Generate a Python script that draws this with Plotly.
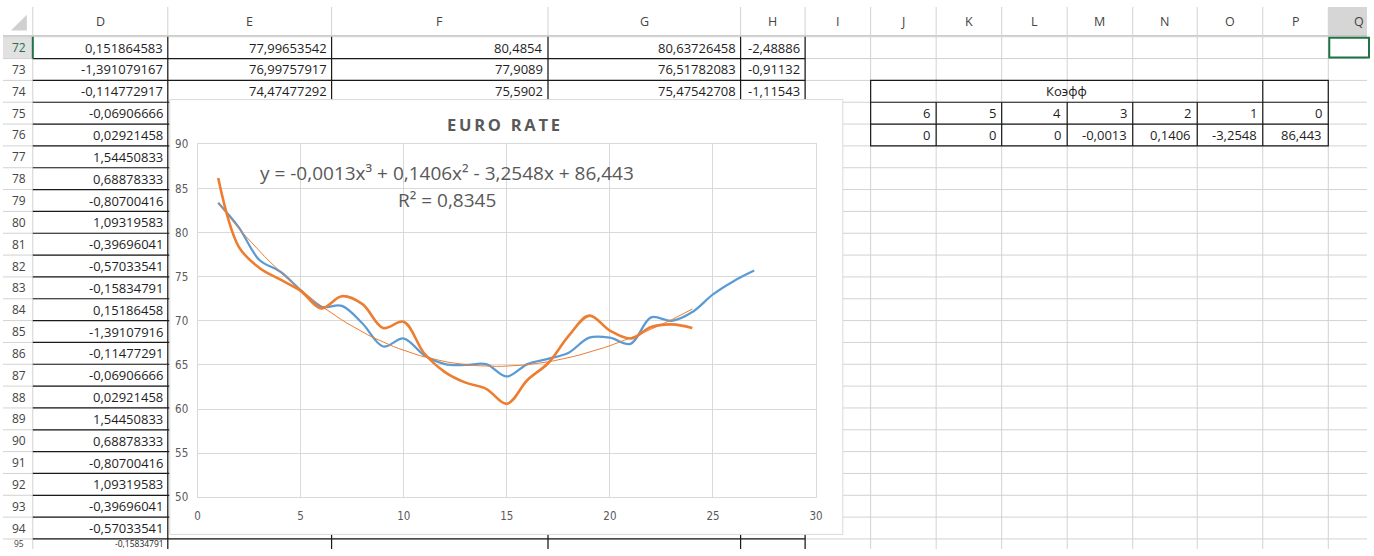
import plotly.graph_objects as go

W, H = 1374, 556

# ---------------- chart data ----------------
x_blue = list(range(1, 28))
y_blue = [83.4, 80.6, 76.9, 75.6, 73.5, 71.6, 71.7, 69.7, 67.1, 68.0,
          66.1, 65.1, 65.0, 65.1, 63.7, 65.1, 65.7, 66.4, 68.1, 68.1,
          67.4, 70.4, 70.0, 71.0, 73.0, 74.5, 75.7]

x_orange = list(range(1, 25))
y_orange = [86.2, 78.4, 76.0, 74.7, 73.4, 71.4, 72.8, 71.9, 69.2, 69.9,
            66.3, 64.2, 63.0, 62.3, 60.6, 63.3, 65.2, 68.3, 70.6, 68.9,
            68.0, 69.3, 69.6, 69.2]

# polynomial trendline coefficients (power -> coefficient)
coef_power = [6, 5, 4, 3, 2, 1, 0]
coef_value = [0, 0, 0, -0.0013, 0.1406, -3.2548, 86.443]
r_squared = 0.8345

x_ticks = [0, 5, 10, 15, 20, 25, 30]
y_ticks = [50, 55, 60, 65, 70, 75, 80, 85, 90]

# ---------------- sheet content ----------------
col_letters = ["D", "E", "F", "G", "H", "I", "J", "K", "L", "M", "N", "O", "P", "Q"]
col_edges = [30, 166, 331, 549, 743, 808, 874, 940, 1006, 1072, 1138, 1203, 1269, 1335, 1401]
row_numbers = list(range(72, 96))
d_values = ["0,151864583", "-1,391079167", "-0,114772917", "-0,06906666", "0,02921458",
            "1,54450833", "0,68878333", "-0,80700416", "1,09319583", "-0,39696041",
            "-0,57033541", "-0,15834791", "0,15186458", "-1,39107916", "-0,11477291",
            "-0,06906666", "0,02921458", "1,54450833", "0,68878333", "-0,80700416",
            "1,09319583", "-0,39696041", "-0,57033541", "-0,15834791"]
e_values = ["77,99653542", "76,99757917", "74,47477292"]
f_values = ["80,4854", "77,9089", "75,5902"]
g_values = ["80,63726458", "76,51782083", "75,47542708"]
h_values = ["-2,48886", "-0,91132", "-1,11543"]
table_title = "Коэфф"
chart_title = "EURO RATE"

ROW_TOP = 30.5
ROW_H = 22.4
SUPER = {2: "\u00b2", 3: "\u00b3"}


def px(v):
    return v / W


def py(v):
    return 1 - v / H


def row_top(k):
    return ROW_TOP + ROW_H * k


def fmt(v):
    return ("%g" % v).replace(".", ",")


shapes = []
annotations = []


def line(x0, y0, x1, y1, color, width=1.0):
    shapes.append(dict(type="line", xref="paper", yref="paper",
                       x0=px(x0), y0=py(y0), x1=px(x1), y1=py(y1),
                       line=dict(color=color, width=width), layer="below"))


def rect(x0, y0, x1, y1, fill, color=None, width=0):
    shapes.append(dict(type="rect", xref="paper", yref="paper",
                       x0=px(x0), y0=py(y0), x1=px(x1), y1=py(y1),
                       fillcolor=fill,
                       line=dict(color=color or fill, width=width), layer="below"))


def text(s, x, y, anchor="right", size=13, color="#1e1e1e", family="Open Sans",
         vanchor="middle", pad=1):
    annotations.append(dict(text=s, x=px(x), y=py(y), xref="paper", yref="paper",
                            xanchor=anchor, yanchor=vanchor, showarrow=False,
                            borderpad=pad,
                            font=dict(size=size, color=color, family=family)))


GRID = "#d2d2d2"
BLACK = "#1a1a1a"
n_rows = len(row_numbers)

# header strip and selected column / row highlight
rect(0, 0, W, 29.5, "#ffffff")
rect(col_edges[13], 0, W, 29.5, "#d6d6d6")
rect(0, row_top(0), 30, row_top(1), "#e1e1e1")
shapes.append(dict(type="path", xref="paper", yref="paper", layer="below",
                   path="M %f,%f L %f,%f L %f,%f Z" % (px(24), py(8), px(24), py(24), px(8), py(24)),
                   fillcolor="#d0d0d0", line=dict(width=0)))

# light sheet gridlines
for k in range(n_rows + 1):
    line(0, row_top(k), W, row_top(k), GRID)
line(0, 29.5, W, 29.5, "#bdbdbd")
for xe in col_edges:
    line(xe, 0, xe, H, GRID)

# black cell borders of the D:H block
for k in range(1, n_rows + 1):
    line(30, row_top(k), col_edges[5], row_top(k), BLACK, 1.2)
for xe in col_edges[1:6]:
    line(xe, row_top(0), xe, H, BLACK, 1.2)

# coefficient table borders
t_left, t_right = col_edges[6], col_edges[13]
t_top, t_bot = row_top(2), row_top(5)
shapes.append(dict(type="rect", xref="paper", yref="paper", layer="below",
                   x0=px(t_left), y0=py(t_top), x1=px(t_right), y1=py(t_bot),
                   line=dict(color=BLACK, width=1.2)))
line(t_left, row_top(3), t_right, row_top(3), BLACK, 1.2)
line(t_left, row_top(4), t_right, row_top(4), BLACK, 1.2)
for xe in col_edges[7:13]:
    line(xe, row_top(3), xe, t_bot, BLACK, 1.2)
line(col_edges[12], t_top, col_edges[12], row_top(3), BLACK, 1.2)

# selected cell Q72
shapes.append(dict(type="rect", xref="paper", yref="paper", layer="below",
                   x0=px(col_edges[13] + 1), y0=py(row_top(0) + 1),
                   x1=px(W + 2), y1=py(row_top(1) - 1),
                   line=dict(color="#217346", width=2)))
line(30, row_top(0), 30, row_top(1), "#217346", 2)

# chart object
rect(168, 95, 846, 541, "#ffffff", "#d9d9d9", 1)

# header letters
for i, c in enumerate(col_letters):
    cx = (col_edges[i] + col_edges[i + 1]) / 2
    if c == "Q":
        cx = 1366
    text(c, cx, 15, anchor="center", size=12.5, color="#444444")

# row numbers (the last row only shows a thin strip at the bottom edge)
last = len(row_numbers) - 1
for k, r in enumerate(row_numbers):
    clr = "#217346" if r == 72 else "#444444"
    if k == last:
        text(str(r), 16, H + 1, anchor="center", size=8.5, color=clr, vanchor="bottom", pad=0)
    else:
        text(str(r), 16, row_top(k) + ROW_H / 2, anchor="center", size=12, color=clr)

# D column values
for k, v in enumerate(d_values):
    if k == last:
        text(v, col_edges[1] - 3, H + 1, size=8.5, vanchor="bottom", pad=0)
    else:
        text(v, col_edges[1] - 3, row_top(k) + ROW_H / 2)

# E..H values of the first rows
for k in range(3):
    cy = row_top(k) + ROW_H / 2
    text(e_values[k], col_edges[2] - 3, cy)
    text(f_values[k], col_edges[3] - 3, cy)
    text(g_values[k], col_edges[4] - 3, cy)
    text(h_values[k], col_edges[5] - 3, cy)

# coefficient table
text(table_title, (t_left + col_edges[12]) / 2, row_top(2) + ROW_H / 2, anchor="center")
for j, (p, c) in enumerate(zip(coef_power, coef_value)):
    xr = col_edges[6 + j + 1] - 4
    text(str(p), xr, row_top(3) + ROW_H / 2)
    text(fmt(c), xr, row_top(4) + ROW_H / 2)

# ---------------- chart texts ----------------
CHART_TXT = "#595959"
spaced_title = "\u2009".join(chart_title)
text("<b>" + spaced_title + "</b>", 504, 121, anchor="center", size=16.5, color=CHART_TXT)

eq_terms = []
for p, c in zip(coef_power, coef_value):
    if c == 0:
        continue
    mag = fmt(abs(c))
    if p > 1:
        term = mag + "x" + SUPER[p]
    elif p == 1:
        term = mag + "x"
    else:
        term = mag
    if not eq_terms:
        eq_terms.append(("-" if c < 0 else "") + term)
    else:
        eq_terms.append(("- " if c < 0 else "+ ") + term)
equation = "y = " + " ".join(eq_terms)
text(equation, 447, 170, anchor="center", size=19, color=CHART_TXT)
text("R" + SUPER[2] + " = " + fmt(r_squared), 447, 198, anchor="center", size=19, color=CHART_TXT)

# ---------------- traces ----------------
x_trend = [1 + 0.25 * k for k in range(int((max(x_orange) - 1) / 0.25) + 1)]
y_trend = [sum(c * xv ** p for p, c in zip(coef_power, coef_value)) for xv in x_trend]

fig = go.Figure()
fig.add_trace(go.Scatter(x=x_blue, y=y_blue, mode="lines",
                         line=dict(color="#5B9BD5", width=2.25, shape="spline", smoothing=1)))
fig.add_trace(go.Scatter(x=x_orange, y=y_orange, mode="lines",
                         line=dict(color="#ED7D31", width=2.6, shape="spline", smoothing=1)))
fig.add_trace(go.Scatter(x=x_trend, y=y_trend, mode="lines",
                         line=dict(color="#ED7D31", width=1)))

axis_font = dict(size=11.5, color=CHART_TXT, family="Liberation Sans Narrow, DejaVu Sans Condensed, sans-serif")
fig.update_layout(
    width=W, height=H,
    margin=dict(l=0, r=0, t=0, b=0),
    paper_bgcolor="#ffffff",
    plot_bgcolor="rgba(0,0,0,0)",
    showlegend=False,
    shapes=shapes,
    annotations=annotations,
    xaxis=dict(domain=[196 / W, 819 / W], range=[0, 30], tickvals=x_ticks,
               showgrid=True, gridcolor="#d9d9d9", gridwidth=1, zeroline=False,
               showline=True, linecolor="#d9d9d9", mirror=True, ticks="",
               tickfont=axis_font, ticklabelstandoff=8),
    yaxis=dict(domain=[1 - 503 / H, 1 - 141 / H], range=[50, 90], tickvals=y_ticks,
               showgrid=True, gridcolor="#d9d9d9", gridwidth=1, zeroline=False,
               showline=True, linecolor="#d9d9d9", mirror=True, ticks="",
               tickfont=axis_font, ticklabelstandoff=6),
)

fig.write_html("out.html")
